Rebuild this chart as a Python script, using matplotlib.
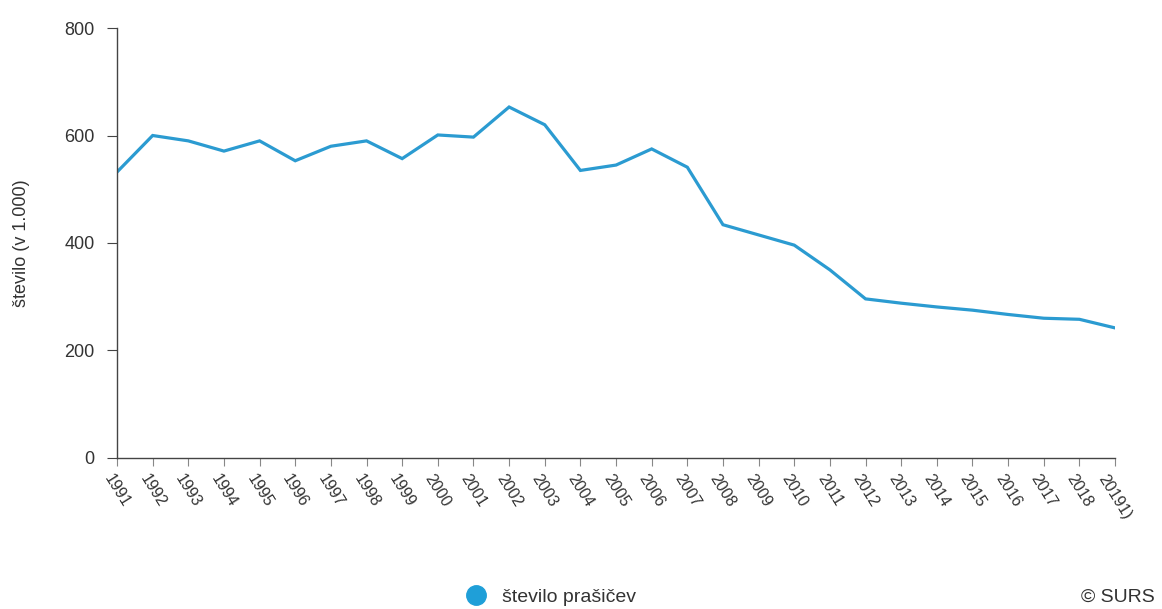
import matplotlib
matplotlib.use("Agg")
import matplotlib.pyplot as plt
from matplotlib.lines import Line2D

years = [str(y) for y in range(1991, 2019)] + ["20191)"]
pigs = [532, 600, 590, 571, 590, 553, 580, 590, 557, 601,
        597, 653, 620, 535, 545, 575, 541, 434, 415, 396,
        350, 296, 288, 281, 275, 267, 260, 258, 242]

plt.rcParams['font.family'] = ['Liberation Sans', 'DejaVu Sans']

line_color = '#2b9bd1'
axis_color = '#444444'
text_color = '#333333'

fig = plt.figure(figsize=(11.62, 6.09), dpi=100)
ax = fig.add_axes([0.1007, 0.248, 0.8589, 0.706])

x = list(range(len(years)))
ax.plot(x, pigs, color=line_color, linewidth=2.3, solid_joinstyle='miter')

ax.set_xlim(0, len(years) - 1)
ax.set_ylim(0, 800)
ax.set_yticks([0, 200, 400, 600, 800])
ax.set_xticks(x)
ax.set_xticklabels(years, rotation=-58, ha='center', va='top', fontsize=11.5, color=text_color)

for s in ['top', 'right']:
    ax.spines[s].set_visible(False)
for s in ['left', 'bottom']:
    ax.spines[s].set_color(axis_color)
    ax.spines[s].set_linewidth(1.0)

ax.tick_params(axis='y', length=7, width=0.8, color=axis_color, labelsize=13, labelcolor=text_color, pad=9)
ax.tick_params(axis='x', length=6, width=0.8, color='#888888', pad=4)

ax.set_ylabel("število (v 1.000)", fontsize=13, color=text_color)
ax.yaxis.set_label_coords(-0.087, 0.5)

handle = Line2D([], [], marker='o', linestyle='none', markersize=14,
                markerfacecolor='#1f9fd8', markeredgecolor='#1f9fd8')
fig.legend([handle], ["število prašičev"], loc='center', bbox_to_anchor=(0.47, 0.02),
           frameon=False, fontsize=14, handletextpad=0.3, labelcolor=text_color)

fig.text(0.994, 0.02, "© SURS", ha='right', va='center', fontsize=14, color=text_color)

fig.savefig("out.png", dpi=100, facecolor='white')
